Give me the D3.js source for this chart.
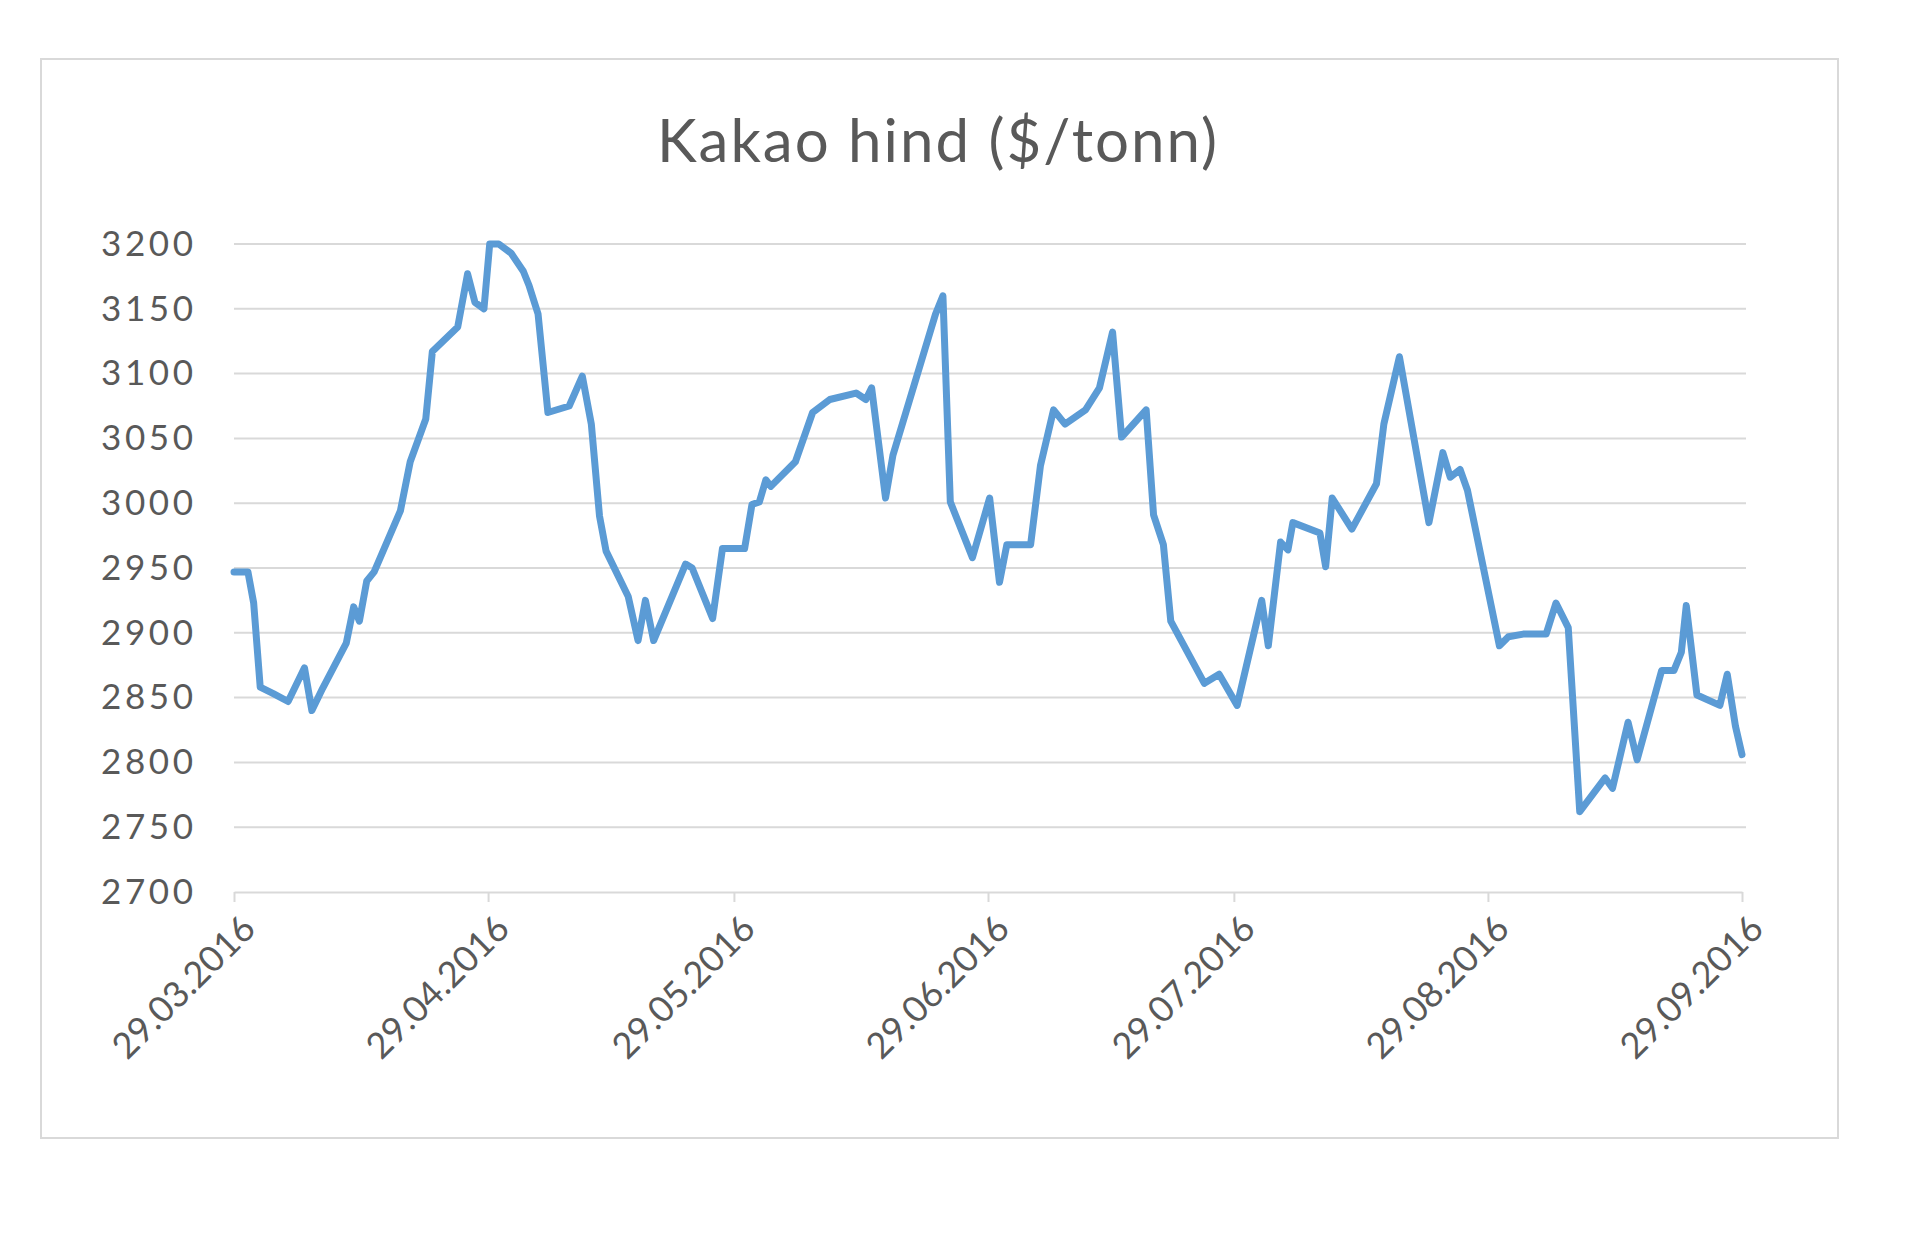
<!DOCTYPE html>
<html><head><meta charset="utf-8">
<script src="https://cdn.jsdelivr.net/npm/d3@7"></script>
<style>body{margin:0;background:#fff}</style></head>
<body><svg id="c" width="1920" height="1238"></svg>
<script>
const title = "Kakao hind ($/tonn)";
const dayOffsets = [0,1.7,2.4,3.2,4.8,6.6,8.6,9.5,10.8,13.7,14.6,15.3,16.2,17.1,20.3,21.5,23.4,24.2,27.3,28.5,29.4,30.5,31.2,32.3,33.8,35.3,36.0,37.1,38.3,40.9,42.5,43.6,44.6,45.4,48.1,49.3,50.2,51.2,55.1,55.9,58.4,59.6,62.3,63.2,64.1,64.9,65.5,68.5,70.6,72.7,75.9,77.1,77.8,79.5,80.4,85.6,86.5,87.4,90.1,92.2,93.4,94.3,97.2,98.4,100.0,101.4,103.9,105.6,107.2,108.3,111.3,112.2,113.4,114.3,118.4,120.2,122.4,125.4,126.2,127.7,128.6,129.2,132.5,133.2,134.0,136.4,139.4,140.3,142.2,145.8,147.5,148.4,149.6,150.5,154.4,155.5,157.3,160.1,161.3,162.8,164.2,166.7,167.3,168.2,170.1,171.2,174.2,175.7,176.6,177.2,178.5,181.3,182.2,183.2,184];
const prices = [2947,2947,2923,2858,2853,2847,2873,2840,2857,2892,2920,2909,2940,2947,2994,3032,3065,3117,3136,3177,3155,3150,3200,3200,3193,3179,3168,3146,3070,3075,3098,3061,2990,2963,2928,2894,2925,2894,2953,2950,2911,2965,2965,2999,3001,3018,3013,3032,3070,3080,3085,3080,3089,3004,3037,3146,3160,3001,2958,3004,2939,2968,2968,3029,3072,3061,3072,3089,3132,3051,3072,2991,2968,2909,2861,2868,2844,2925,2890,2970,2964,2985,2977,2951,3004,2980,3015,3061,3113,2985,3039,3020,3026,3010,2890,2897,2899,2899,2923,2904,2762,2783,2788,2780,2831,2802,2871,2871,2885,2921,2852,2844,2868,2828,2806];
const yTicks = [2700,2750,2800,2850,2900,2950,3000,3050,3100,3150,3200];
const xTickLabels = ["29.03.2016","29.04.2016","29.05.2016","29.06.2016","29.07.2016","29.08.2016","29.09.2016"];

const start = new Date(2016,2,29);
const toDate = d => new Date(start.getTime() + d*86400000);
const svg = d3.select("#c");
svg.append("rect").attr("x",41).attr("y",59).attr("width",1797).attr("height",1079)
  .attr("fill","#fff").attr("stroke","#d9d9d9").attr("stroke-width",2);
svg.append("text").attr("x",937).attr("y",162).attr("text-anchor","middle")
  .attr("font-family","Lato, 'Open Sans', sans-serif").attr("font-size",60).attr("fill","#595959")
  .attr("textLength",560).text(title);

const x = d3.scaleTime().domain([start, new Date(2016,8,29)]).range([234,1742]);
const y = d3.scaleLinear().domain([2700,3200]).range([892,244]);
const tickDates = xTickLabels.map(s=>{const [d,m,yy]=s.split(".");return new Date(+yy,+m-1,+d);});

const ga = svg.append("g").attr("transform","translate(193,0)")
  .call(d3.axisLeft(y).tickValues(yTicks).tickSize(0).tickPadding(0).tickFormat(d3.format("d")));
ga.select(".domain").remove();
ga.selectAll("text").attr("font-family","Lato, 'Open Sans', sans-serif").attr("font-size",35).attr("fill","#595959")
  .attr("textLength",92);

svg.append("g").selectAll("line").data(yTicks.filter(v=>v>2700)).join("line")
  .attr("x1",234).attr("x2",1746).attr("y1",d=>y(d)).attr("y2",d=>y(d))
  .attr("stroke","#d9d9d9").attr("stroke-width",2);

const gx = svg.append("g").attr("transform","translate(0,892)")
  .call(d3.axisBottom(x).tickValues(tickDates).tickSize(10).tickSizeOuter(0)
    .tickFormat((d,i)=>xTickLabels[i]));
gx.select(".domain").attr("stroke","#d9d9d9").attr("stroke-width",2);
gx.selectAll(".tick line").attr("stroke","#d9d9d9").attr("stroke-width",2);
gx.selectAll("text").attr("font-family","Lato, 'Open Sans', sans-serif").attr("font-size",36).attr("fill","#595959")
  .attr("text-anchor","end").attr("transform","translate(14,30) rotate(-45)").attr("dy","0.35em").attr("y",0).attr("x",0);

const data = dayOffsets.map((d,i)=>({d:toDate(d),v:prices[i]}));
svg.append("path").datum(data).attr("fill","none").attr("stroke","#5b9bd5").attr("stroke-width",7)
  .attr("stroke-linejoin","round").attr("stroke-linecap","round")
  .attr("d",d3.line().x(d=>x(d.d)).y(d=>y(d.v)));
</script></body></html>
